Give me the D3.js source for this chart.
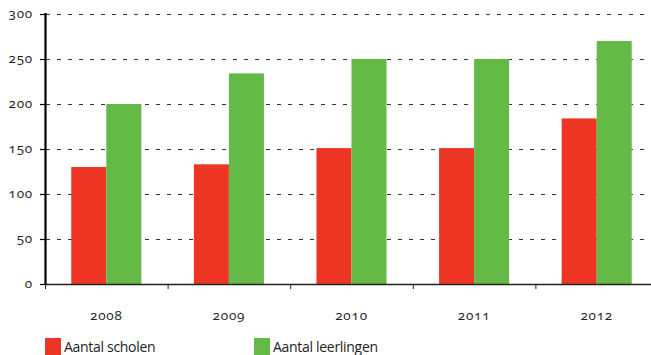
<!DOCTYPE html>
<html>
<head>
<meta charset="utf-8">
<script src="https://cdn.jsdelivr.net/npm/d3@7"></script>
<style>
  html, body { margin: 0; padding: 0; background: #fff; }
  svg { display: block; font-family: "Open Sans", "Noto Sans", sans-serif; font-variant-numeric: oldstyle-nums; }
</style>
</head>
<body>
<svg id="chart" width="651" height="355"></svg>
<script>
const categories = ["2008", "2009", "2010", "2011", "2012"];
const seriesNames = ["Aantal scholen", "Aantal leerlingen"];
const scholen = [130, 133, 151, 151, 184];
const leerlingen = [200, 234, 250, 250, 270];
const yTicks = [0, 50, 100, 150, 200, 250, 300];
const colors = ["#EE3524", "#63BA47"];

const svg = d3.select("#chart");
const x = d3.scaleBand().domain(categories).range([45, 658]).paddingInner(0).paddingOuter(0);
const x1 = d3.scaleBand().domain(seriesNames).range([0, x.bandwidth()]).paddingInner(0).paddingOuter(0.75);
const y = d3.scaleLinear().domain([0, 300]).range([284, 14]);

// gridlines
svg.append("g").selectAll("line").data(yTicks.filter(d => d > 0)).join("line")
  .attr("x1", 46).attr("x2", 651)
  .attr("y1", d => Math.round(y(d)) + 0.5).attr("y2", d => Math.round(y(d)) + 0.5)
  .attr("stroke", "#333").attr("stroke-width", 1).attr("stroke-dasharray", "4,7");

// bars
const data = categories.map((c, i) => ({ cat: c, vals: [scholen[i], leerlingen[i]] }));
const groups = svg.append("g").selectAll("g").data(data).join("g")
  .attr("transform", d => `translate(${x(d.cat)},0)`);
groups.selectAll("rect").data(d => d.vals.map((v, j) => ({ name: seriesNames[j], v, j }))).join("rect")
  .attr("x", d => x1(d.name))
  .attr("width", x1.bandwidth())
  .attr("y", d => y(d.v))
  .attr("height", d => y(0) - y(d.v))
  .attr("fill", d => colors[d.j]);

// x axis
const xAxisG = svg.append("g").attr("transform", "translate(0,284)");
xAxisG.append("line").attr("x1", 45).attr("x2", 651).attr("y1", 0.5).attr("y2", 0.5).attr("stroke", "#222").attr("stroke-width", 1.5);
const xTickPos = categories.map(c => x(c));
xAxisG.selectAll("line.tick").data(xTickPos).join("line").attr("class", "tick")
  .attr("x1", d => d + 0.5).attr("x2", d => d + 0.5).attr("y1", 0).attr("y2", 5)
  .attr("stroke", "#222").attr("stroke-width", 1);
xAxisG.selectAll("text").data(categories).join("text")
  .attr("x", d => x(d) + x.bandwidth() / 2)
  .attr("y", 36)
  .attr("text-anchor", "middle")
  .attr("font-size", 13.5).attr("letter-spacing", 0.8).attr("fill", "#222").text(d => d);

// y axis
const yAxisG = svg.append("g");
yAxisG.append("line").attr("x1", 45.5).attr("x2", 45.5).attr("y1", 13).attr("y2", 285).attr("stroke", "#000").attr("stroke-width", 2.2);
yAxisG.selectAll("line.tick").data(yTicks).join("line").attr("class", "tick")
  .attr("x1", 40).attr("x2", 45).attr("y1", d => Math.round(y(d)) + 0.5).attr("y2", d => Math.round(y(d)) + 0.5)
  .attr("stroke", "#000").attr("stroke-width", 1.2);
yAxisG.selectAll("text").data(yTicks).join("text")
  .attr("x", 33).attr("y", d => y(d) + 4)
  .attr("text-anchor", "end")
  .attr("font-size", 13.5).attr("letter-spacing", 0.8).attr("fill", "#222").text(d => d);

// legend
const legendX = [45, 254];
const leg = svg.append("g").selectAll("g").data(seriesNames).join("g")
  .attr("transform", (d, i) => `translate(${legendX[i]},338)`);
leg.append("rect").attr("width", 16).attr("height", 17).attr("fill", (d, i) => colors[i]);
leg.append("text").attr("x", 19).attr("y", 14).attr("font-size", 14).attr("fill", "#222")
  .attr("letter-spacing", -0.3).text(d => d);
</script>
</body>
</html>
